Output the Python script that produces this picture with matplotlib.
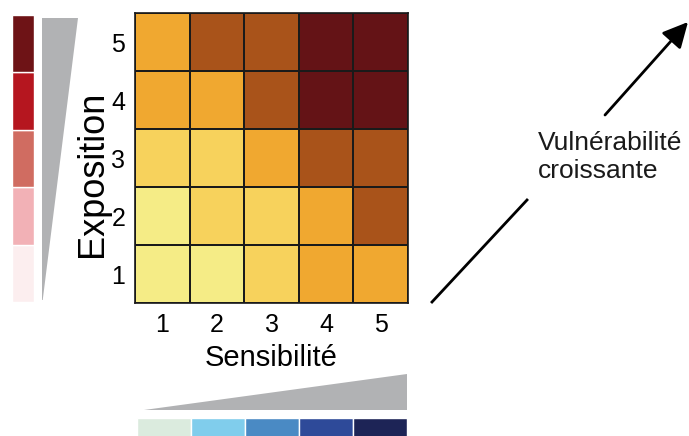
import numpy as np
import matplotlib.pyplot as plt
from matplotlib.colors import ListedColormap, BoundaryNorm
from matplotlib.patches import FancyArrowPatch

plt.rcParams['font.family'] = ['Liberation Sans', 'DejaVu Sans']

# vulnerability class for each (exposition row, sensibilite column), row 1 at bottom
sensibilite = [1, 2, 3, 4, 5]
exposition = [1, 2, 3, 4, 5]
vuln = np.array([
    [1, 1, 2, 3, 3],
    [1, 2, 2, 3, 4],
    [2, 2, 3, 4, 4],
    [3, 3, 4, 5, 5],
    [3, 4, 4, 5, 5],
])
vuln_colors = ['#F5EC86', '#F7D25C', '#F0A830', '#A9531A', '#641316']
expo_colors = ['#FCEEEF', '#F2B1B6', '#D06C61', '#B5161F', '#6E1316']
sens_colors = ['#DBEBDE', '#80CDEC', '#4A8AC4', '#2E4A99', '#1D2456']
grey = '#B1B2B4'

W, H = 689, 436
fig = plt.figure(figsize=(W / 100, H / 100), dpi=100)


def px_axes(x0, y0, x1, y1):
    # axes from pixel box (top-left origin)
    return fig.add_axes([x0 / W, 1 - y1 / H, (x1 - x0) / W, (y1 - y0) / H])


# main heatmap
ax = px_axes(135, 13, 408, 303)
cmap = ListedColormap(vuln_colors)
norm = BoundaryNorm(np.arange(0.5, 6.5, 1), cmap.N)
xe = np.arange(0.5, len(sensibilite) + 1, 1)
ye = np.arange(0.5, len(exposition) + 1, 1)
ax.pcolormesh(xe, ye, vuln, cmap=cmap, norm=norm, edgecolors='#1a1a1a', linewidth=1.2)
ax.set_xlim(0.5, 5.5)
ax.set_ylim(0.5, 5.5)
ax.set_xticks(sensibilite)
ax.set_yticks(exposition)
ax.tick_params(length=0, labelsize=18, pad=7)
for s in ax.spines.values():
    s.set_linewidth(1.2)
    s.set_color('#1a1a1a')
ax.set_xlabel('Sensibilité', fontsize=21, labelpad=5)
ax.set_ylabel('Exposition', fontsize=26)
ax.yaxis.set_label_coords(-0.09, 0.445)

# exposition colour bar (left)
axe = px_axes(12, 15, 34, 302)
axe.bar(0, [1] * len(exposition), bottom=np.arange(len(exposition)), width=1,
        color=expo_colors, edgecolor='white', linewidth=1)
axe.set_xlim(-0.5, 0.5)
axe.set_ylim(0, 5)
axe.axis('off')

# exposition wedge
axw = px_axes(42, 18, 78, 300)
axw.fill([0, 0.02, 1, 0], [0, 0, 1, 1], color=grey, linewidth=0)
axw.set_xlim(0, 1)
axw.set_ylim(0, 1)
axw.axis('off')

# sensibilite wedge
axs = px_axes(144, 374, 407, 410)
axs.fill([0, 1, 1], [0, 0, 1], color=grey, linewidth=0)
axs.set_xlim(0, 1)
axs.set_ylim(0, 1)
axs.axis('off')

# sensibilite colour bar (bottom)
axb = px_axes(137, 418, 407, 446)
axb.bar(np.arange(len(sensibilite)), [1] * len(sensibilite), width=1,
        color=sens_colors, edgecolor='white', linewidth=1)
axb.set_xlim(-0.5, 4.5)
axb.set_ylim(0, 1)
axb.axis('off')

# arrow with text
fig.add_artist(plt.Line2D([432 / W, 527 / W], [1 - 302 / H, 1 - 200 / H],
                          color='black', linewidth=2))
fig.add_artist(FancyArrowPatch(
    (605 / W, 1 - 115 / H), (688 / W, 1 - 22 / H), transform=fig.transFigure,
    arrowstyle='-|>,head_length=7,head_width=3.5', color='black', linewidth=2,
    mutation_scale=2.2, shrinkA=0, shrinkB=0))
fig.text(538 / W, 1 - 178 / H, 'Vulnérabilité\ncroissante', fontsize=19,
         va='baseline', ha='left', linespacing=1.2, color='#1a1a1a')

fig.savefig('out.png', dpi=100)
